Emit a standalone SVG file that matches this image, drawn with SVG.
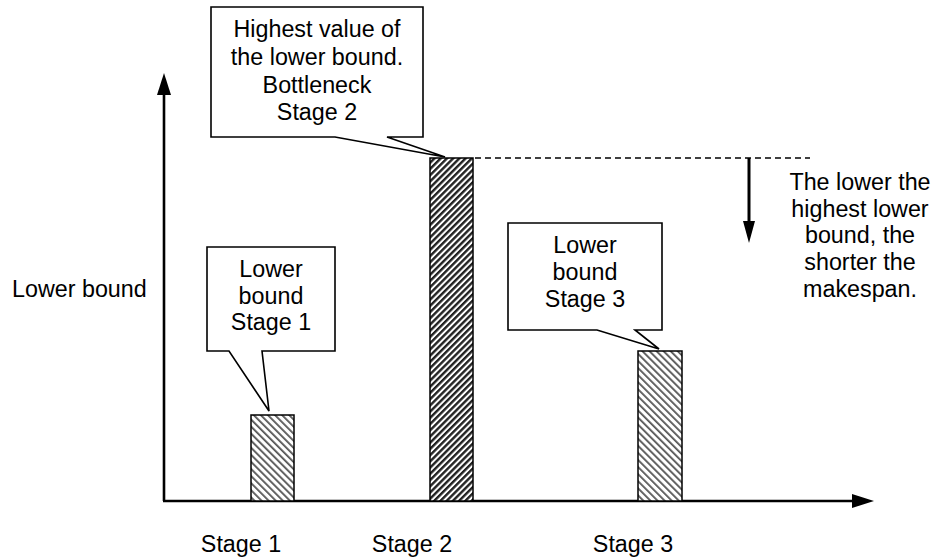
<svg xmlns="http://www.w3.org/2000/svg" width="936" height="559" viewBox="0 0 936 559">
  <style>
    text { font-family: "Liberation Sans", Arial, sans-serif; font-size: 23.3px; fill: #000; }
    .mid { text-anchor: middle; }
    .axis { stroke: #000; stroke-width: 2.6; fill: none; }
    .bar { stroke: #000; stroke-width: 1.5; }
    .callout { fill: #fff; stroke: #000; stroke-width: 1.6; stroke-linejoin: miter; }
    .guide { stroke: #000; stroke-width: 1.5; stroke-dasharray: 6 4; fill: none; }
  </style>
  <defs>
    <!-- light back-slash hatch for ordinary stages -->
    <pattern id="hatchLight" width="5" height="5" patternUnits="userSpaceOnUse" patternTransform="rotate(-45)">
      <rect width="5" height="5" fill="#fff"/>
      <rect x="0" y="0" width="1.8" height="5" fill="#555"/>
    </pattern>
    <!-- dense forward-slash hatch for the bottleneck stage -->
    <pattern id="hatchDark" width="4.4" height="4.4" patternUnits="userSpaceOnUse" patternTransform="rotate(45)">
      <rect width="4.4" height="4.4" fill="#fff"/>
      <rect x="0" y="0" width="2.4" height="4.4" fill="#222"/>
    </pattern>
  </defs>

  <rect width="936" height="559" fill="#fff"/>

  <!-- axes -->
  <g id="axes">
    <line class="axis" x1="164" y1="501" x2="164" y2="92"/>
    <polygon points="164,73 157,95 171,95" fill="#000"/>
    <line class="axis" x1="163" y1="501" x2="855" y2="501"/>
    <polygon points="874,501 852,494 852,508" fill="#000"/>
  </g>

  <!-- connectors: threshold guide and downward arrow -->
  <g id="connectors">
    <line class="guide" x1="475" y1="158" x2="810" y2="158"/>
    <line x1="749" y1="158" x2="749" y2="224" stroke="#000" stroke-width="3"/>
    <polygon points="749,243 743,221 755,221" fill="#000"/>
  </g>

  <!-- bars -->
  <g id="bar1"><rect class="bar" x="251" y="415" width="43" height="86" fill="url(#hatchLight)"/></g>
  <g id="bar2"><rect class="bar" x="430" y="158" width="43" height="343" fill="url(#hatchDark)"/></g>
  <g id="bar3"><rect class="bar" x="638" y="351" width="44" height="150" fill="url(#hatchLight)"/></g>

  <!-- callouts -->
  <g id="callout1">
    <path class="callout" d="M207,247 H335 V351 H262 L269,411 L229,351 H207 Z"/>
    <text class="mid" x="271" y="277">Lower</text>
    <text class="mid" x="271" y="304">bound</text>
    <text class="mid" x="271" y="330">Stage 1</text>
  </g>
  <g id="callout2">
    <path class="callout" d="M211,7 H423 V137 H387 L445,157 L335,137 H211 Z"/>
    <text class="mid" x="317" y="37">Highest value of</text>
    <text class="mid" x="317" y="65">the lower bound.</text>
    <text class="mid" x="317" y="93">Bottleneck</text>
    <text class="mid" x="317" y="120">Stage 2</text>
  </g>
  <g id="callout3">
    <path class="callout" d="M508,223 H662 V330 H635 L659,349 L597,330 H508 Z"/>
    <text class="mid" x="585" y="253">Lower</text>
    <text class="mid" x="585" y="280">bound</text>
    <text class="mid" x="585" y="307">Stage 3</text>
  </g>

  <!-- labels -->
  <g id="labels">
    <text x="12" y="297">Lower bound</text>
    <text class="mid" x="241" y="552">Stage 1</text>
    <text class="mid" x="412" y="552">Stage 2</text>
    <text class="mid" x="633" y="552">Stage 3</text>
  </g>

  <g id="note">
    <text class="mid" x="860" y="190">The lower the</text>
    <text class="mid" x="860" y="217">highest lower</text>
    <text class="mid" x="860" y="243">bound, the</text>
    <text class="mid" x="860" y="270">shorter the</text>
    <text class="mid" x="860" y="297">makespan.</text>
  </g>
</svg>
